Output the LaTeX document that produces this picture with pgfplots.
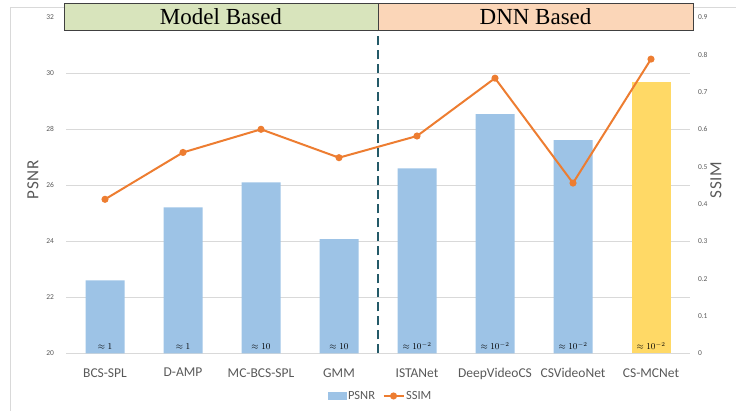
\documentclass[border=0pt]{standalone}
\usepackage{pgfplots}
\pgfplotsset{compat=1.18}
\usepackage{fontspec}
\setmainfont{Carlito}
\newfontfamily\timesfont{Liberation Serif}
\newfontfamily\labfont[LetterSpace=4]{Carlito}
\definecolor{barblue}{HTML}{9DC3E6}
\definecolor{baryellow}{HTML}{FFD966}
\definecolor{lineorange}{HTML}{ED7D31}
\definecolor{txtgrey}{HTML}{595959}
\definecolor{gridgrey}{HTML}{D9D9D9}
\definecolor{boxgreen}{HTML}{D8E4BC}
\definecolor{boxorange}{HTML}{FBD6B8}
\definecolor{dashteal}{HTML}{245A68}
\definecolor{boxedge}{HTML}{404040}
\pgfplotsset{mylineleg/.style={legend image code/.code={\draw[mark repeat=2,mark phase=2,##1] plot coordinates {(0pt,0pt) (10pt,0pt) (20pt,0pt)};}}}
\begin{document}
\begin{tikzpicture}[x=1pt,y=1pt]
\useasboundingbox (0,0) rectangle (736,411);
\draw[gridgrey, line width=0.8pt] (10,-5) -- (10,404) -- (745,404);
\begin{axis}[
  at={(66pt,57.7pt)}, anchor=south west,
  scale only axis, width=624pt, height=336pt,
  xmin=-0.5, xmax=7.5, ymin=20, ymax=32,
  xtick={0,...,7},
  xticklabels={BCS-SPL,D-AMP,MC-BCS-SPL,GMM,ISTANet,DeepVideoCS,CSVideoNet,CS-MCNet},
  ytick={20,22,...,32},
  /pgf/number format/assume math mode=true,
  major tick length=0pt,
  axis x line*=bottom, axis y line*=left,
  x axis line style={draw=gridgrey, line width=0.8pt, -},
  y axis line style={draw=none},
  ymajorgrids, grid style={gridgrey, line width=0.8pt},
  xticklabel style={font=\fontsize{13.5}{14}\selectfont, text=txtgrey, yshift=-11.5pt},
  yticklabel style={font=\fontsize{7.5}{8}\selectfont, text=txtgrey, xshift=-8.5pt},
]
\addplot[ybar, bar width=39pt, bar shift=0pt, fill=barblue, draw=none]
  coordinates {(0,22.60) (1,25.21) (2,26.10) (3,24.08) (4,26.60) (5,28.54) (6,27.61)};
\addplot[ybar, bar width=39pt, bar shift=0pt, fill=baryellow, draw=none]
  coordinates {(7,29.69)};
\addplot[only marks, mark=none, point meta=explicit symbolic, nodes near coords,
  every node near coord/.append style={anchor=base, font=\fontsize{9}{9}\selectfont, text=black}]
  coordinates {(0,20.12) [{$\approx 1$}] (1,20.12) [{$\approx 1$}] (2,20.12) [{$\approx 10$}] (3,20.12) [{$\approx 10$}]
  (4,20.12) [{$\approx 10^{-2}$}] (5,20.12) [{$\approx 10^{-2}$}] (6,20.12) [{$\approx 10^{-2}$}] (7,20.12) [{$\approx 10^{-2}$}]};
\end{axis}
\begin{axis}[
  at={(66pt,57.7pt)}, anchor=south west,
  scale only axis, width=624pt, height=336pt,
  xmin=-0.5, xmax=7.5, ymin=0, ymax=0.9,
  clip=false,
  axis x line=none, axis y line*=right,
  y axis line style={draw=none},
  ytick={0,0.1,...,0.9},
  /pgf/number format/assume math mode=true,
  yticklabel={\pgfmathprintnumber[fixed,precision=1]{\tick}},
  major tick length=0pt,
  yticklabel style={font=\fontsize{7.5}{8}\selectfont, text=txtgrey, xshift=4.5pt},
  legend style={at={(axis description cs:0.504,-0.127)}, anchor=center, draw=none, fill=none,
    font=\fontsize{12.5}{13}\selectfont, text=txtgrey, legend columns=2,
    nodes={inner xsep=1.5pt},
    /tikz/every even column/.append style={column sep=6pt}},
]
\draw[dashteal, line width=2pt, dash pattern=on 9pt off 5pt] (axis cs:3.5,0) -- (axis cs:3.5,0.866);
\addlegendimage{legend image code/.code={\fill[barblue] (0pt,-3.5pt) rectangle (18pt,3.5pt);}}
\addlegendentry{PSNR}
\addplot[lineorange, line width=2pt, mark=*, mark size=2.5pt, mark options={fill=lineorange, draw=lineorange}, mylineleg]
  coordinates {(0,0.4125) (1,0.538) (2,0.600) (3,0.524) (4,0.582) (5,0.737) (6,0.456) (7,0.788)};
\addlegendentry{SSIM}
\draw[boxedge, line width=0.8pt, fill=boxgreen] (axis cs:-0.526,0.866) rectangle (axis cs:3.5,0.9375);
\draw[boxedge, line width=0.8pt, fill=boxorange] (axis cs:3.5,0.866) rectangle (axis cs:7.54,0.9375);
\node[font=\timesfont\fontsize{23}{24}\selectfont, text=black] at (axis cs:1.487,0.9018) {Model Based};
\node[font=\timesfont\fontsize{23}{24}\selectfont, text=black] at (axis cs:5.52,0.9018) {DNN Based};
\node[rotate=90, anchor=center, text=txtgrey] at (axis description cs:-0.0529,0.516) {\labfont\fontsize{17}{18}\selectfont PSNR};
\node[rotate=90, anchor=center, text=txtgrey] at (axis description cs:1.0417,0.516) {\labfont\fontsize{17}{18}\selectfont SSIM};
\end{axis}
\end{tikzpicture}
\end{document}
